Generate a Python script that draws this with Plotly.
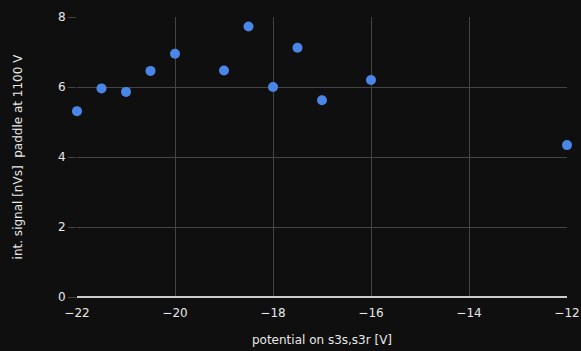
import plotly.graph_objects as go

potential = [-22, -21.5, -21, -20.5, -20, -19, -18.5, -18, -17.5, -17, -16, -12]
signal = [5.31, 5.96, 5.86, 6.46, 6.95, 6.47, 7.73, 6.0, 7.12, 5.62, 6.2, 4.34]

fig = go.Figure(go.Scatter(
    x=potential, y=signal, mode="markers",
    marker=dict(size=10, color="#4a86e8", line=dict(width=0)),
    cliponaxis=False,
))

font = dict(family="DejaVu Sans", size=12, color="#e8e8e8")
fig.update_layout(
    width=581, height=351,
    margin=dict(l=77, r=14, t=17, b=54),
    paper_bgcolor="#0f0f0f", plot_bgcolor="#0f0f0f",
    font=font, showlegend=False,
    xaxis=dict(range=[-22, -12], dtick=2, showgrid=True, gridcolor="#444444", gridwidth=1,
               zeroline=False, showline=False, ticks="outside", ticklen=5,
               tickcolor="#0f0f0f", tickfont=font, automargin=False,
               title=dict(text="potential on s3s,s3r [V]", font=font, standoff=16)),
    yaxis=dict(range=[0, 8], dtick=2, showgrid=True, gridcolor="#444444", gridwidth=1,
               zeroline=True, zerolinecolor="#cccccc", zerolinewidth=2,
               showline=False, ticks="outside", ticklen=8, tickcolor="#444444",
               tickfont=font, automargin=False,
               title=dict(text="int. signal [nVs]  paddle at 1100 V", font=font, standoff=32)),
)
fig.write_html("out.html")
